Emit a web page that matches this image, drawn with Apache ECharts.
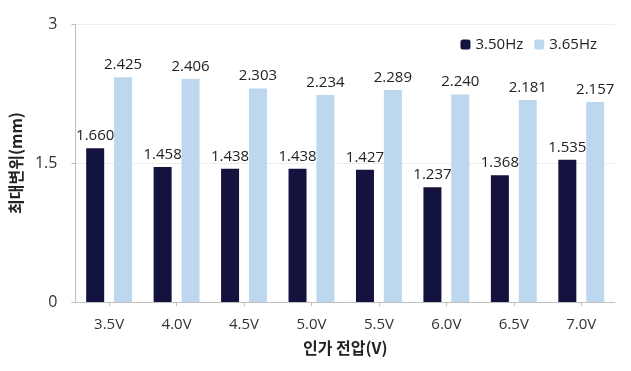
<!DOCTYPE html>
<html><head><meta charset="utf-8">
<script src="https://cdn.jsdelivr.net/npm/echarts@6/dist/echarts.min.js"></script>
<style>html,body{margin:0;padding:0;background:#fff}#c{width:631px;height:371px}</style>
</head><body><div id="c"></div>
<script>
var categories = ['3.5V','4.0V','4.5V','5.0V','5.5V','6.0V','6.5V','7.0V'];
var series350 = [1.660,1.458,1.438,1.438,1.427,1.237,1.368,1.535];
var series365 = [2.425,2.406,2.303,2.234,2.289,2.240,2.181,2.157];
var seriesNames = ['3.50Hz','3.65Hz'];
var font = '"Open Sans","Noto Sans CJK KR",sans-serif';
var krFont = '"Noto Sans CJK KR","Open Sans",sans-serif';
var chart = echarts.init(document.getElementById('c'));
var lbl = {show:true,position:'top',distance:5,color:'#222',fontSize:15,fontFamily:font,formatter:function(p){return p.value.toFixed(3);}};
chart.setOption({
  animation:false,
  textStyle:{fontFamily:font},
  grid:{left:75,right:16,top:24,bottom:69},
  legend:{right:29,top:32,itemWidth:10,itemHeight:10,itemGap:11,textStyle:{fontSize:15,color:'#222',fontFamily:font},data:seriesNames},
  xAxis:{type:'category',data:categories,
    axisLine:{lineStyle:{color:'#bfbfbf'}},
    axisTick:{show:true,alignWithLabel:true,length:4,lineStyle:{color:'#bfbfbf'}},
    axisLabel:{fontSize:15,color:'#333',margin:15,fontFamily:font},
    name:'인가 전압(V)',nameLocation:'middle',nameGap:38,
    nameTextStyle:{fontSize:16,fontWeight:'bold',color:'#222',fontFamily:krFont}},
  yAxis:{type:'value',min:0,max:3,interval:1.5,
    axisLine:{show:true,lineStyle:{color:'#bfbfbf'}},
    axisTick:{show:true,length:4,lineStyle:{color:'#bfbfbf'}},
    splitLine:{lineStyle:{color:'#eeeeee'}},
    axisLabel:{fontSize:16,color:'#333',margin:18,fontFamily:font,formatter:function(v){return String(v);}},
    name:'최대변위(mm)',nameLocation:'middle',nameGap:44,nameRotate:90,
    nameTextStyle:{fontSize:16,fontWeight:'bold',color:'#222',fontFamily:krFont}},
  series:[
    {name:seriesNames[0],type:'bar',data:series350,barWidth:18,barGap:'55%',itemStyle:{color:'#14123e'},label:lbl},
    {name:seriesNames[1],type:'bar',data:series365,barWidth:18,itemStyle:{color:'#bdd7ee'},label:lbl}
  ]
});
</script></body></html>
